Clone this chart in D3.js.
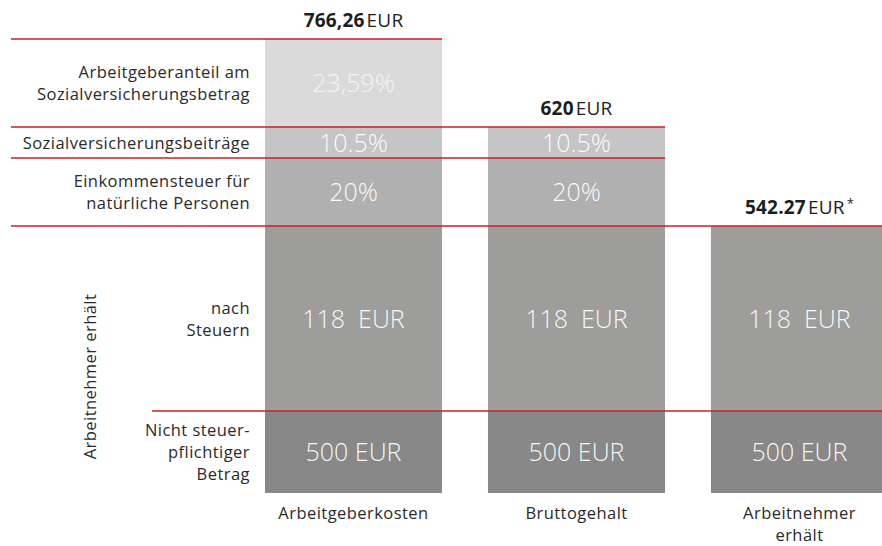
<!DOCTYPE html>
<html>
<head>
<meta charset="utf-8">
<script src="https://cdn.jsdelivr.net/npm/d3@7"></script>
<style>
  body { margin: 0; background: #fff; }
  text { font-family: "Open Sans", Lato, sans-serif; }
</style>
</head>
<body>
<svg id="chart" width="882" height="546"></svg>
<script>
// categories (columns)
var categories = ["Arbeitgeberkosten", "Bruttogehalt", "Arbeitnehmer erhält"];
var totalsBold = ["766,26", "620", "542.27"];
var totalsUnit = ["EUR", "EUR", "EUR*"];

// rows, top to bottom
var rowNames = ["ag_anteil", "sozial", "steuer", "netto", "steuerfrei"];
var rowLabels = [
    ["Arbeitgeberanteil am", "Sozialversicherungsbetrag"],
    ["Sozialversicherungsbeiträge"],
    ["Einkommensteuer für", "natürliche Personen"],
    ["nach", "Steuern"],
    ["Nicht steuer-", "pflichtiger", "Betrag"]
];
var rowColors = ["#dadada", "#c5c5c5", "#b0b0b0", "#9d9d9c", "#888888"];

// which rows each column has, and what is written in them
var cells = [
    ["23,59%", "10.5%", "20%", "118  EUR", "500 EUR"],
    [null, "10.5%", "20%", "118  EUR", "500 EUR"],
    [null, null, null, "118  EUR", "500 EUR"]
];
var sideTitle = "Arbeitnehmer erhält";

var svg = d3.select("#chart");

var x = d3.scaleBand()
    .domain(categories)
    .range([265, 888])
    .paddingInner(0.206)
    .paddingOuter(0);

// rows are not drawn to scale, boundaries by row index
var y = d3.scaleLinear()
    .domain([0, 1, 2, 3, 4, 5])
    .range([39, 127, 158, 226, 411, 493]);

var red = "#c8202a";
var ink = "#2a2a2a";
var labelSize = 16.5, spacing = 0.45;

// bars
categories.forEach(function (cat, ci) {
    var segs = cells[ci].map(function (v, ri) { return {row: ri, label: v}; })
        .filter(function (d) { return d.label !== null; });

    var g = svg.append("g");
    g.selectAll("rect")
        .data(segs)
        .enter().append("rect")
        .attr("x", x(cat))
        .attr("y", function (d) { return y(d.row); })
        .attr("width", x.bandwidth())
        .attr("height", function (d) { return y(d.row + 1) - y(d.row); })
        .attr("fill", function (d) { return rowColors[d.row]; });

    g.selectAll("text.val")
        .data(segs)
        .enter().append("text")
        .attr("class", "val")
        .attr("x", x(cat) + x.bandwidth() / 2)
        .attr("y", function (d) { return (y(d.row) + y(d.row + 1)) / 2 + 9; })
        .attr("text-anchor", "middle")
        .attr("font-size", 25)
        .attr("font-weight", 300)
        .attr("fill", "#fff")
        .attr("fill-opacity", function (d) { return d.row === 0 ? 0.7 : 0.95; })
        .style("white-space", "pre")
        .text(function (d) { return d.label; });

    // totals above each column
    var top = y(segs[0].row);
    var t = svg.append("text")
        .attr("x", x(cat) + x.bandwidth() / 2)
        .attr("y", top - 12)
        .attr("text-anchor", "middle")
        .attr("font-size", 19)
        .attr("letter-spacing", 0.2)
        .attr("fill", "#1e1e1e");
    t.append("tspan").attr("font-weight", "bold").text(totalsBold[ci]);
    var unit = totalsUnit[ci];
    var star = unit.indexOf("*") >= 0;
    t.append("tspan").attr("dx", 2).text(unit.replace("*", ""));
    if (star) t.append("tspan").attr("dx", 2).attr("dy", -6).attr("font-size", 13).text("*");

    // category label
    var words = cat === "Arbeitnehmer erhält" ? ["Arbeitnehmer", "erhält"] : [cat];
    svg.append("text")
        .attr("text-anchor", "middle")
        .attr("font-size", labelSize)
        .attr("letter-spacing", spacing)
        .attr("fill", ink)
        .selectAll("tspan")
        .data(words)
        .enter().append("tspan")
        .attr("x", x(cat) + x.bandwidth() / 2)
        .attr("y", function (d, i) { return 519 + i * 22; })
        .text(function (d) { return d; });
});

// row labels on the left
rowLabels.forEach(function (lines, ri) {
    var mid = (y(ri) + y(ri + 1)) / 2;
    var lh = 22;
    var start = mid - (lines.length - 1) * lh / 2 + 6;
    svg.append("text")
        .attr("text-anchor", "end")
        .attr("font-size", labelSize)
        .attr("letter-spacing", spacing)
        .attr("fill", ink)
        .selectAll("tspan")
        .data(lines)
        .enter().append("tspan")
        .attr("x", 250)
        .attr("y", function (d, i) { return start + i * lh; })
        .text(function (d) { return d; });
});

// rotated side title
svg.append("text")
    .attr("transform", "translate(96," + ((y(3) + y(5)) / 2 + 17) + ") rotate(-90)")
    .attr("text-anchor", "middle")
    .attr("font-size", labelSize)
    .attr("letter-spacing", spacing)
    .attr("fill", ink)
    .text(sideTitle);

// red separator lines
var lastCol = function (ri) {
    var c = 0;
    cells.forEach(function (col, ci) { if (col[ri] !== null || (ri > 0 && col[ri - 1] !== null)) c = ci; });
    return c;
};
var rules = d3.range(0, 5).map(function (ri) {
    var ci = lastCol(ri);
    var x2 = ci === categories.length - 1 ? 882 : x(categories[ci]) + x.bandwidth();
    return {row: ri, x1: ri === 4 ? 152 : 11, x2: x2};
});
svg.append("g")
    .selectAll("line")
    .data(rules)
    .enter().append("line")
    .attr("x1", function (d) { return d.x1; })
    .attr("x2", function (d) { return d.x2; })
    .attr("y1", function (d) { return y(d.row); })
    .attr("y2", function (d) { return y(d.row); })
    .attr("stroke", red)
    .attr("stroke-width", 1.6);
</script>
</body>
</html>
